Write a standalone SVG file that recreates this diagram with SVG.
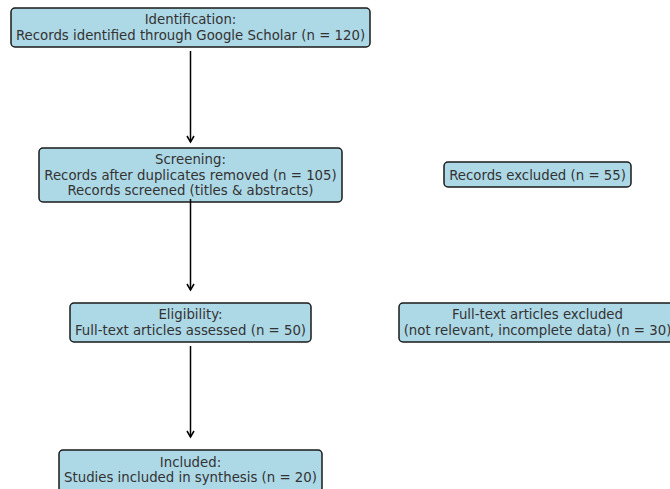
<svg xmlns="http://www.w3.org/2000/svg" width="670" height="489" viewBox="0 0 670 489">
<style>
.box{fill:#add8e6;stroke:#1a1a1a;stroke-width:1.5}
text{font-family:"DejaVu Sans",sans-serif;font-size:13.3px;fill:#333;text-anchor:middle}
.conn{stroke:#000;stroke-width:1.5;fill:none}
</style>
<defs>
<marker id="ah" markerWidth="10" markerHeight="10" refX="8" refY="5" orient="auto" markerUnits="userSpaceOnUse">
<path d="M2,1.5 L8,5 L2,8.5" fill="none" stroke="#000" stroke-width="1.5"/>
</marker>
</defs>
<rect width="670" height="489" fill="#fff"/>
<g id="identification">
<rect class="box" x="11" y="8" width="359" height="39" rx="4"/>
<text x="190.5" y="24">Identification:</text>
<text x="190.5" y="39.5">Records identified through Google Scholar (n = 120)</text>
</g>
<g id="screening">
<rect class="box" x="39" y="148" width="303" height="54" rx="4"/>
<text x="190.5" y="164">Screening:</text>
<text x="190.5" y="179.5">Records after duplicates removed (n = 105)</text>
<text x="190.5" y="195">Records screened (titles &amp; abstracts)</text>
</g>
<g id="records-excluded">
<rect class="box" x="444" y="162" width="187" height="25" rx="4"/>
<text x="537.5" y="179.5">Records excluded (n = 55)</text>
</g>
<g id="eligibility">
<rect class="box" x="70" y="303" width="241" height="39" rx="4"/>
<text x="190.5" y="319">Eligibility:</text>
<text x="190.5" y="334.5">Full-text articles assessed (n = 50)</text>
</g>
<g id="fulltext-excluded">
<rect class="box" x="399" y="303" width="276" height="39" rx="4"/>
<text x="537.5" y="319">Full-text articles excluded</text>
<text x="537.5" y="334.5">(not relevant, incomplete data) (n = 30)</text>
</g>
<g id="included">
<rect class="box" x="59" y="450" width="263" height="42" rx="4"/>
<text x="190.5" y="466.5">Included:</text>
<text x="190.5" y="482">Studies included in synthesis (n = 20)</text>
</g>
<g id="connectors">
<line class="conn" x1="190.5" y1="51" x2="190.5" y2="142" marker-end="url(#ah)"/>
<line class="conn" x1="190.5" y1="199" x2="190.5" y2="290" marker-end="url(#ah)"/>
<line class="conn" x1="190.5" y1="346" x2="190.5" y2="437" marker-end="url(#ah)"/>
</g>
</svg>
